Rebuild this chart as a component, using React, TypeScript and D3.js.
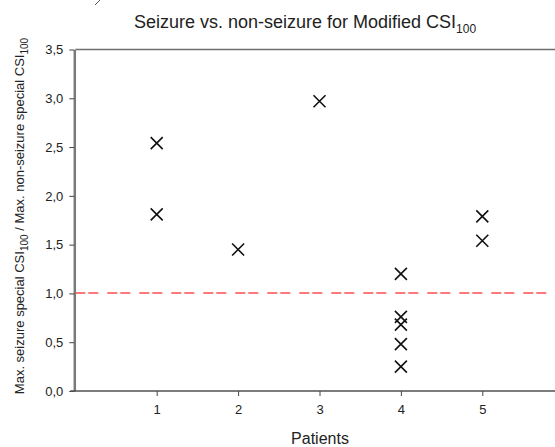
import React, { useRef, useEffect } from 'react';
import * as d3 from 'd3';

// Patient index and ratio (seizure / non-seizure)
const patients = [1, 1, 2, 3, 4, 4, 4, 4, 4, 5, 5];
const ratios = [2.54, 1.81, 1.45, 2.97, 1.2, 0.76, 0.68, 0.48, 0.25, 1.79, 1.54];
const xTicks = [1, 2, 3, 4, 5];
const yTicks = [0, 0.5, 1, 1.5, 2, 2.5, 3, 3.5];
const threshold = 1.0;

const W = 555;
const H = 447;
const FONT = '"Liberation Sans", Arial, sans-serif';

export default function App() {
  const svgRef = useRef<SVGSVGElement>(null);

  useEffect(() => {
    const svg = d3.select(svgRef.current);
    if (!svg.node()) return;
    svg.selectAll('*').remove();

    const x = d3.scaleLinear().domain([0, 6]).range([75.3, 563.7]);
    const y = d3.scaleLinear().domain([0, 3.5]).range([391, 49.5]);
    const fmt = (d: d3.NumberValue) => d3.format('.1f')(+d).replace('.', ',');

    // top frame line
    svg.append('line')
      .attr('x1', x(0)).attr('x2', W)
      .attr('y1', y(3.5)).attr('y2', y(3.5))
      .attr('stroke', '#6e6e6e').attr('stroke-width', 1.5);

    // threshold line
    svg.append('line')
      .attr('x1', x(0)).attr('x2', W)
      .attr('y1', Math.round(y(threshold))).attr('y2', Math.round(y(threshold)))
      .attr('stroke', '#ff4c4c').attr('stroke-width', 1.4)
      .attr('stroke-dasharray', '10,3,10,9');

    const yAxis = svg.append('g')
      .attr('transform', `translate(${x(0) - 1},0)`)
      .style('font-family', FONT)
      .style('font-size', '13px')
      .call(d3.axisLeft(y).tickValues(yTicks).tickFormat(fmt).tickSize(5).tickSizeOuter(0));
    yAxis.select('.domain').attr('stroke', '#7a7a7a').attr('stroke-width', 2.5);
    yAxis.selectAll('.tick line').attr('stroke', '#444');
    yAxis.selectAll('.tick text')
      .style('font-family', FONT).style('font-size', '13px').attr('fill', '#222').attr('x', -11);

    const xAxis = svg.append('g')
      .attr('transform', `translate(0,${y(0)})`)
      .style('font-family', FONT)
      .style('font-size', '13px')
      .call(d3.axisBottom(x).tickValues(xTicks).tickFormat(d3.format('d')).tickSize(5).tickSizeOuter(0));
    xAxis.select('.domain')
      .attr('d', `M${x(0) - 5},0H${W}`)
      .attr('stroke', '#505050').attr('stroke-width', 1.5);
    xAxis.selectAll('.tick line').attr('stroke', '#444');
    xAxis.selectAll('.tick text')
      .style('font-family', FONT).style('font-size', '13px').attr('fill', '#222').attr('y', 14);

    // X markers
    const s = 6;
    const data = patients.map((p, i) => ({ p, v: ratios[i] }));
    svg.append('g').selectAll('path')
      .data(data)
      .join('path')
      .attr('d', d => {
        const cx = x(d.p), cy = y(d.v);
        return `M${cx - s},${cy - s}L${cx + s},${cy + s}M${cx - s},${cy + s}L${cx + s},${cy - s}`;
      })
      .attr('stroke', '#111').attr('stroke-width', 1.6).attr('fill', 'none');

    // title
    const title = svg.append('text')
      .attr('x', 305).attr('y', 28)
      .attr('text-anchor', 'middle')
      .attr('font-family', FONT).attr('font-size', 18).attr('fill', '#222');
    title.append('tspan').text('Seizure vs. non-seizure for Modified CSI');
    title.append('tspan').attr('font-size', 12).attr('dy', 5).text('100');

    // x label
    svg.append('text')
      .attr('x', 320).attr('y', 444)
      .attr('text-anchor', 'middle')
      .attr('font-family', FONT).attr('font-size', 16).attr('fill', '#222')
      .text('Patients');

    // y label
    const yl = svg.append('text')
      .attr('transform', 'translate(24,216) rotate(-90)')
      .attr('text-anchor', 'middle')
      .attr('font-family', FONT).attr('font-size', 13).attr('fill', '#222');
    yl.append('tspan').text('Max. seizure special CSI');
    yl.append('tspan').attr('font-size', 10).attr('dy', 4).text('100');
    yl.append('tspan').attr('dy', -4).text(' / Max. non-seizure special CSI');
    yl.append('tspan').attr('font-size', 10).attr('dy', 4).text('100');

    // stray mark from cropped source at top
    svg.append('path')
      .attr('d', 'M100,0L95,5')
      .attr('stroke', '#555').attr('stroke-width', 1);
  }, []);

  return (
    <svg
      ref={svgRef}
      width={W}
      height={H}
      style={{ position: 'absolute', left: 0, top: 0, background: '#fff' }}
    />
  );
}
